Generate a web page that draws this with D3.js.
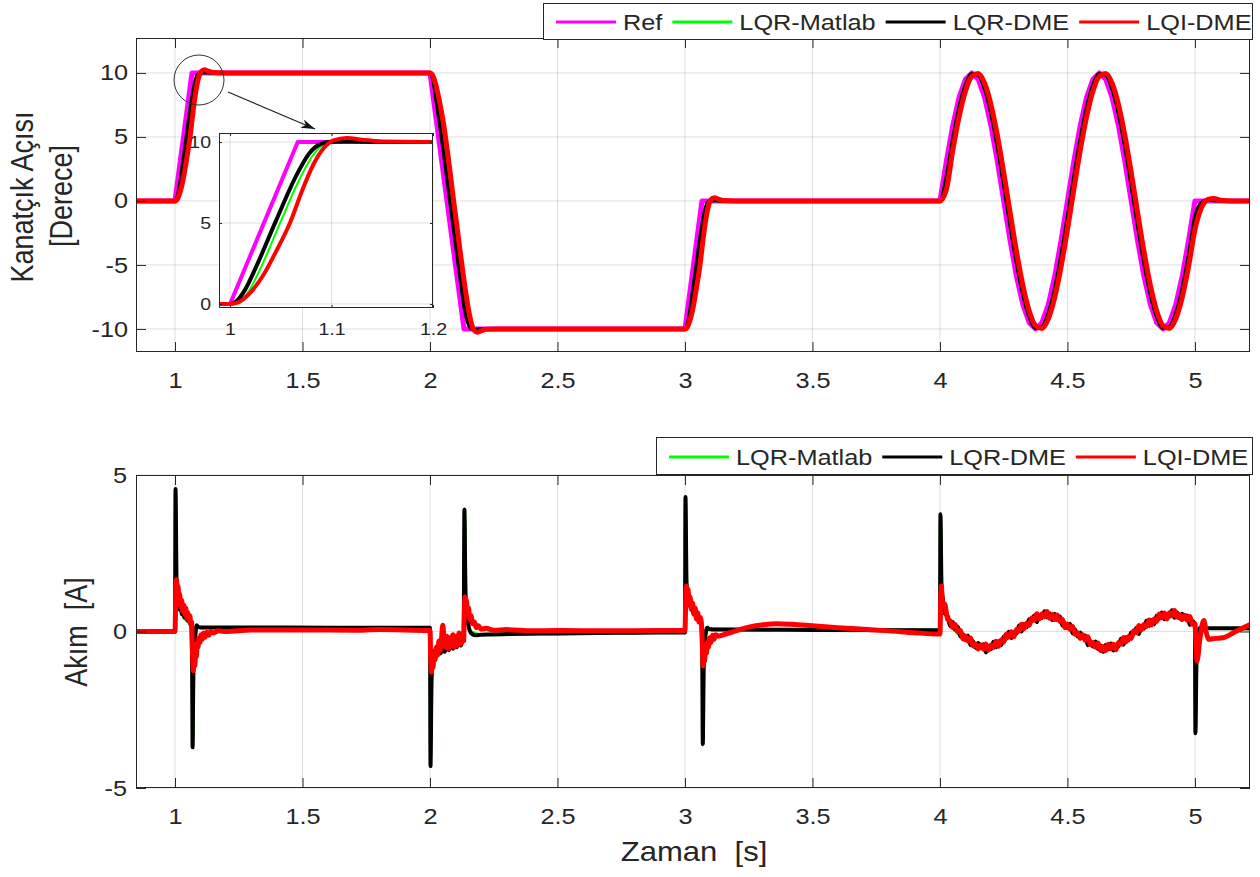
<!DOCTYPE html>
<html>
<head>
<meta charset="utf-8">
<script src="https://cdn.jsdelivr.net/npm/d3@7"></script>
<style>
  body { margin: 0; background: #fff; }
  text { font-family: "Liberation Sans", Arial, sans-serif; fill: #262626; }
</style>
</head>
<body>
<div id="chart"></div>
<script>
// ---- data ----
const xTicks = [1, 1.5, 2, 2.5, 3, 3.5, 4, 4.5, 5];
const angleTicks = [-10, -5, 0, 5, 10];
const currentTicks = [-5, 0, 5];
const insetXTicks = [1, 1.1, 1.2];
const insetYTicks = [0, 5, 10];
const angleNames = ["Ref", "LQR-Matlab", "LQR-DME", "LQI-DME"];
const currentNames = ["LQR-Matlab", "LQR-DME", "LQI-DME"];

// kanatçık açısı, step parts [t, deg]
const refSteps = [[0.847,0],[1,0],[1.0667,10],[2,10],[2.1333,-10],[3,-10],[3.0667,0],[4,0]];
const refTail = [[5.216,0]];
const greenSteps = [[0.847,0],[1,0],[1.009,0.12],[1.019,0.85],[1.03,2.2],[1.05,5.1],[1.07,7.9],[1.083,9.3],[1.094,9.9],[1.105,10.02],[1.13,10.02],[1.16,10],
  [2,10],[2.009,9.88],[2.02,9.1],[2.03,7.7],[2.045,5.7],[2.085,-0.3],[2.125,-6.3],[2.14,-8.4],[2.153,-9.5],[2.165,-9.95],[2.18,-10.05],[2.21,-10],
  [3,-10],[3.009,-9.88],[3.019,-9.15],[3.03,-7.8],[3.05,-4.9],[3.07,-2.1],[3.083,-0.7],[3.094,-0.1],[3.105,0.02],[3.13,0.02],[3.16,0],[4,0]];
const greenTail = [[5.025,-0.4],[5.05,0.02],[5.1,0.02],[5.216,0]];
const blackSteps = [[0.847,0],[1,0],[1.006,0.15],[1.015,0.9],[1.025,2.2],[1.045,5.1],[1.065,7.9],[1.078,9.3],[1.09,9.9],[1.1,10.02],[1.12,10.03],[1.15,10],
  [2,10],[2.006,9.85],[2.015,9.1],[2.025,7.7],[2.04,5.7],[2.08,-0.3],[2.12,-6.3],[2.135,-8.4],[2.148,-9.5],[2.16,-9.95],[2.175,-10.05],[2.2,-10],
  [3,-10],[3.006,-9.85],[3.015,-9.1],[3.025,-7.8],[3.045,-4.9],[3.065,-2.1],[3.078,-0.7],[3.09,-0.1],[3.1,0.02],[3.12,0.03],[3.15,0],[4,0]];
const blackTail = [[5.025,-0.15],[5.05,0.08],[5.08,0.03],[5.12,0],[5.216,0]];
const redSteps = [[0.847,0],[1,0],[1.008,0.1],[1.02,0.7],[1.033,1.8],[1.045,3.2],[1.059,5],[1.071,7],[1.082,8.6],[1.092,9.6],[1.102,10.1],[1.115,10.25],[1.13,10.15],[1.15,10.03],[1.2,10],
  [2,10],[2.008,9.9],[2.02,9.3],[2.035,8.0],[2.05,6.4],[2.1,-1.1],[2.14,-7.1],[2.152,-8.6],[2.163,-9.6],[2.173,-10.1],[2.185,-10.25],[2.2,-10.15],[2.22,-10.03],[2.26,-10],
  [3,-10],[3.008,-9.9],[3.02,-9.3],[3.033,-8.2],[3.045,-6.8],[3.059,-5],[3.071,-3],[3.082,-1.4],[3.092,-0.4],[3.102,0.1],[3.115,0.25],[3.13,0.15],[3.15,0.03],[3.2,0],[4,0]];
const redTail = [[5.025,-0.55],[5.05,0.1],[5.075,0.2],[5.1,0.06],[5.15,0],[5.216,0]];

// sinus part 4..5 s
const sineTime = [4.025,4.05,4.075,4.1,4.125,4.15,4.175,4.2,4.225,4.25,4.275,4.3,4.325,4.35,4.375,4.4,4.425,4.45,4.475,4.5,
  4.525,4.55,4.575,4.6,4.625,4.65,4.675,4.7,4.725,4.75,4.775,4.8,4.825,4.85,4.875,4.9,4.925,4.95,4.975,5.0];
const refSine = [3.09,5.88,8.09,9.51,10,9.51,8.09,5.88,3.09,0,-3.09,-5.88,-8.09,-9.51,-10,-9.51,-8.09,-5.88,-3.09,0,
  3.09,5.88,8.09,9.51,10,9.51,8.09,5.88,3.09,0,-3.09,-5.88,-8.09,-9.51,-10,-9.51,-8.09,-5.88,-3.09,0];
const greenSine = [1.39,4.38,6.95,8.83,9.85,9.9,8.99,7.19,4.69,1.74,-1.39,-4.38,-6.95,-8.83,-9.85,-9.9,-8.99,-7.19,-4.69,-1.74,
  1.39,4.38,6.95,8.83,9.85,9.9,8.99,7.19,4.69,1.74,-1.39,-4.38,-6.95,-8.83,-9.85,-9.9,-8.99,-7.19,-4.69,-1.74];
const blackSine = [1.91,4.85,7.31,9.06,9.93,9.82,8.75,6.82,4.23,1.22,-1.91,-4.85,-7.31,-9.06,-9.93,-9.82,-8.75,-6.82,-4.23,-1.22,
  1.91,4.85,7.31,9.06,9.93,9.82,8.75,6.82,4.23,1.22,-1.91,-4.85,-7.31,-9.06,-9.93,-9.82,-8.75,-6.82,-4.23,-1.22];
const redSine = [0.87,3.91,6.56,8.57,9.74,9.96,9.21,7.55,5.15,2.25,-0.87,-3.91,-6.56,-8.57,-9.74,-9.96,-9.21,-7.55,-5.15,-2.25,
  0.87,3.91,6.56,8.57,9.74,9.96,9.21,7.55,5.15,2.25,-0.87,-3.91,-6.56,-8.57,-9.74,-9.96,-9.21,-7.55,-5.15,-2.25];

// akım [A]
const greenCurrent = [[0.847,0],[1.0,0],[1.002,4.4],[1.008,1.2],[1.02,0.7],[1.04,0.4],[1.06,0.2],[1.066,0.0],[1.07,-3.5],[1.075,-0.8],[1.082,0.05],[1.09,0.12],[1.999,0.12],
  [2.0,0.12],[2.002,-4.1],[2.008,-1.2],[2.03,-0.6],[2.08,-0.45],[2.132,-0.3],[2.136,3.7],[2.142,0.8],[2.16,0.0],[2.2,-0.1],[2.999,-0.03],
  [3.0,-0.03],[3.002,4.1],[3.008,1.2],[3.03,0.8],[3.06,0.3],[3.067,0.05],[3.071,-3.4],[3.077,-0.6],[3.09,0.08],[3.999,0.04],
  [4.0,0.04],[4.002,3.6],[4.008,1.2],[4.03,0.4],[4.1,-0.25],[4.18,-0.55],[4.3,0.0],[4.42,0.52],[4.53,0.0],[4.66,-0.55],[4.77,0.0],[4.92,0.55],[4.995,0.3],
  [5.0,0.25],[5.002,-3.1],[5.008,-0.6],[5.02,0.1],[5.216,0.08]];
const blackCurrentHead = [[0.847,0],[1.0,0],[1.002,4.55],[1.006,1.6],[1.01,1.0],[1.013,1.15],[1.017,0.7],[1.022,0.9],[1.027,0.55],[1.032,0.75],[1.037,0.45],[1.043,0.6],[1.049,0.35],[1.055,0.45],[1.06,0.25],[1.064,0.2],[1.067,-1.0],[1.069,-3.7],[1.072,-1.2],[1.076,-0.5],[1.08,-0.1],[1.085,0.2],[1.09,0.15],[1.1,0.13],[1.3,0.13],[1.6,0.12],[1.999,0.12],
  [2.0,0.12],[2.002,-4.3],[2.006,-1.6],[2.01,-1.0],[2.016,-0.8],[2.022,-0.55],[2.028,-0.75],[2.035,-0.5],[2.042,-0.7],[2.05,-0.45],[2.058,-0.65],[2.066,-0.4],[2.074,-0.6],[2.082,-0.35],[2.09,-0.55],[2.098,-0.3],[2.106,-0.5],[2.114,-0.28],[2.122,-0.45],[2.128,-0.25],[2.132,-0.3],[2.135,3.9],[2.139,1.3],[2.143,0.6],[2.148,0.3],[2.155,0.05],[2.165,-0.08],[2.18,-0.12],[2.2,-0.1],[2.5,-0.06],[2.8,-0.04],[2.999,-0.03],
  [3.0,-0.03],[3.002,4.3],[3.006,1.6],[3.01,1.1],[3.015,1.2],[3.02,0.8],[3.026,0.95],[3.032,0.6],[3.038,0.75],[3.044,0.45],[3.05,0.55],[3.056,0.3],[3.062,0.35],[3.066,0.1],[3.068,-1.2],[3.07,-3.6],[3.073,-1.2],[3.077,-0.4],[3.082,0.0],[3.088,0.12],[3.095,0.08],[3.12,0.06],[3.5,0.05],[3.999,0.04],
  [4.0,0.04],[4.002,3.75],[4.006,1.5]];
const blackCurrentTail = [[4.995,0.3],[5.0,0.25],[5.002,-3.25],[5.006,-1.0],[5.012,-0.1],[5.02,0.12],[5.05,0.1],[5.216,0.1]];
const redCurrentHead = [[0.847,0],[1.0,0],[1.003,1.2],[1.006,1.65],[1.009,1.3],[1.012,1.45],[1.015,1.0],[1.018,1.2],[1.022,0.8],[1.026,1.0],[1.03,0.65],[1.034,0.85],[1.038,0.55],[1.042,0.75],[1.046,0.45],[1.05,0.6],[1.054,0.35],[1.058,0.5],[1.062,0.25],[1.065,0.3],[1.068,-0.5],[1.072,-1.25],[1.075,-0.9],[1.078,-1.1],[1.081,-0.6],[1.084,-0.8],[1.087,-0.35],[1.09,-0.5],[1.094,-0.2],[1.098,-0.35],[1.102,-0.1],[1.107,-0.25],[1.112,-0.05],[1.118,-0.18],[1.125,-0.02],[1.132,-0.12],[1.14,0.0],[1.15,-0.05],[1.17,0.02],[1.2,0.0],[1.3,0.05],[1.5,0.05],[1.7,0.04],[1.8,0.06],[1.999,0.03],
  [2.0,0.03],[2.003,-0.9],[2.006,-1.3],[2.009,-1.0],[2.012,-1.15],[2.016,-0.7],[2.02,-0.9],[2.025,-0.5],[2.03,-0.75],[2.035,-0.3],[2.04,-0.6],[2.045,-0.25],[2.05,0.2],[2.055,-0.2],[2.06,-0.5],[2.066,-0.15],[2.072,-0.55],[2.078,-0.2],[2.084,-0.45],[2.09,-0.1],[2.096,-0.5],[2.102,-0.15],[2.108,-0.45],[2.114,-0.05],[2.12,-0.4],[2.126,-0.1],[2.132,-0.3],[2.134,0.3],[2.137,1.1],[2.14,0.85],[2.143,1.0],[2.147,0.6],[2.151,0.75],[2.156,0.4],[2.161,0.5],[2.167,0.25],[2.174,0.3],[2.182,0.12],[2.19,0.18],[2.2,0.08],[2.22,0.1],[2.25,0.04],[2.3,0.06],[2.4,0.02],[2.5,0.03],[2.7,0.02],[2.9,0.03],[2.999,0.03],
  [3.0,0.03],[3.003,1.0],[3.006,1.45],[3.009,1.2],[3.012,1.35],[3.016,0.9],[3.02,1.1],[3.025,0.7],[3.03,0.9],[3.035,0.55],[3.04,0.75],[3.045,0.4],[3.05,0.6],[3.055,0.3],[3.06,0.45],[3.065,0.2],[3.068,-0.4],[3.071,-1.1],[3.074,-0.8],[3.077,-0.95],[3.08,-0.55],[3.084,-0.7],[3.088,-0.35],[3.092,-0.5],[3.097,-0.2],[3.102,-0.35],[3.108,-0.12],[3.114,-0.25],[3.12,-0.1],[3.13,-0.15],[3.16,-0.08],[3.2,0.02],[3.25,0.14],[3.3,0.21],[3.36,0.25],[3.42,0.23],[3.5,0.18],[3.6,0.12],[3.7,0.07],[3.8,0.02],[3.9,-0.04],[3.999,-0.08],
  [4.0,-0.08],[4.003,1.0],[4.006,1.45],[4.008,1.1]];
const redCurrentTail = [[4.995,0.25],[5.0,0.25],[5.004,-0.4],[5.008,-0.95],[5.02,-0.2],[5.035,0.35],[5.045,-0.05],[5.055,-0.25],[5.08,-0.22],[5.11,-0.2],[5.16,0.0],[5.216,0.22]];

// noisy part 4.01..4.99 s
const waveTime = [4.01,4.02,4.03,4.04,4.05,4.06,4.07,4.08,4.09,4.1,4.11,4.12,4.13,4.14,4.15,4.16,4.17,4.18,4.19,4.2,
  4.21,4.22,4.23,4.24,4.25,4.26,4.27,4.28,4.29,4.3,4.31,4.32,4.33,4.34,4.35,4.36,4.37,4.38,4.39,4.4,
  4.41,4.42,4.43,4.44,4.45,4.46,4.47,4.48,4.49,4.5,4.51,4.52,4.53,4.54,4.55,4.56,4.57,4.58,4.59,4.6,
  4.61,4.62,4.63,4.64,4.65,4.66,4.67,4.68,4.69,4.7,4.71,4.72,4.73,4.74,4.75,4.76,4.77,4.78,4.79,4.8,
  4.81,4.82,4.83,4.84,4.85,4.86,4.87,4.88,4.89,4.9,4.91,4.92,4.93,4.94,4.95,4.96,4.97,4.98,4.99];
const blackWave = [1.12,0.56,0.50,0.17,0.30,0.06,0.16,-0.16,-0.09,-0.27,
  -0.13,-0.44,-0.31,-0.52,-0.37,-0.52,-0.41,-0.67,-0.48,-0.57,
  -0.33,-0.50,-0.31,-0.44,-0.16,-0.24,-0.01,-0.21,-0.02,-0.07,
  0.19,0.00,0.24,0.14,0.39,0.33,0.51,0.30,0.52,0.43,
  0.65,0.45,0.58,0.37,0.56,0.37,0.49,0.19,0.27,0.11,
  0.25,-0.06,0.06,-0.16,-0.03,-0.20,-0.13,-0.44,-0.31,-0.48,
  -0.32,-0.56,-0.45,-0.65,-0.43,-0.57,-0.38,-0.61,-0.43,-0.48,
  -0.23,-0.42,-0.18,-0.28,-0.03,-0.08,0.11,-0.08,0.16,0.09,
  0.34,0.18,0.37,0.23,0.50,0.40,0.61,0.39,0.55,0.47,
  0.68,0.44,0.61,0.42,0.57,0.42,0.51,0.21,0.34];
const redWave = [0.94,0.85,0.39,0.34,0.12,0.22,-0.01,0.04,-0.24,-0.14,
  -0.31,-0.21,-0.46,-0.40,-0.56,-0.42,-0.56,-0.40,-0.59,-0.44,
  -0.51,-0.31,-0.47,-0.27,-0.34,-0.08,-0.18,-0.01,-0.17,0.06,
  0.01,0.23,0.09,0.26,0.20,0.43,0.36,0.57,0.41,0.56,
  0.47,0.64,0.42,0.54,0.38,0.53,0.32,0.39,0.12,0.24,
  0.07,0.17,-0.09,-0.04,-0.22,-0.10,-0.28,-0.17,-0.42,-0.35,
  -0.50,-0.37,-0.61,-0.48,-0.61,-0.41,-0.55,-0.41,-0.58,-0.35,
  -0.41,-0.19,-0.33,-0.16,-0.22,0.02,-0.04,0.19,0.05,0.22,
  0.16,0.37,0.21,0.40,0.32,0.56,0.44,0.59,0.40,0.60,
  0.50,0.67,0.46,0.54,0.38,0.52,0.36,0.48,0.23];

// --- birleştir ---
const zip = (ts, vs) => ts.map((t, i) => [t, vs[i]]);
const refAngle = [...refSteps, ...zip(sineTime, refSine), ...refTail];
const greenAngle = [...greenSteps, ...zip(sineTime, greenSine), ...greenTail];
const blackAngle = [...blackSteps, ...zip(sineTime, blackSine), ...blackTail];
const redAngle = [...redSteps, ...zip(sineTime, redSine), ...redTail];
const blackCurrent = [...blackCurrentHead, ...zip(waveTime, blackWave), ...blackCurrentTail];
const redCurrent = [...redCurrentHead, ...zip(waveTime, redWave), ...redCurrentTail];

// ---- çizim ----
const W = 1260, H = 877;
const SX = 1.15; // figure is stretched horizontally
const colors = { ref: "#ff00ff", green: "#00ff00", black: "#000000", red: "#ff0000" };

const svg = d3.select("#chart").append("svg").attr("width", W).attr("height", H);
svg.append("rect").attr("width", W).attr("height", H).attr("fill", "#fff");
const defs = svg.append("defs");

const x = d3.scaleLinear().domain([0.847, 5.216]).range([136, 1250]);
const yTop = d3.scaleLinear().domain([-11.8, 12.73]).range([352, 38]);
const yBot = d3.scaleLinear().domain([-5, 5]).range([788, 475]);

let clipN = 0;
function axesFrame(xs, ys, xt, yt, o) {
  const [x0, x1] = xs.range(), [y0, y1] = ys.range();
  const g = svg.append("g");
  if (o.bg) g.append("rect").attr("x", x0).attr("y", y1).attr("width", x1 - x0).attr("height", y0 - y1).attr("fill", "#fff");
  // grid
  const grid = g.append("g").attr("stroke", "#262626").attr("stroke-opacity", 0.15).attr("stroke-width", 1);
  grid.selectAll(".gx").data(xt).join("line")
    .attr("x1", d => xs(d)).attr("x2", d => xs(d)).attr("y1", y1).attr("y2", y0);
  grid.selectAll(".gy").data(yt).join("line")
    .attr("x1", x0).attr("x2", x1).attr("y1", d => ys(d)).attr("y2", d => ys(d));
  // clipped plot layer
  const id = "clip" + (clipN++);
  defs.append("clipPath").attr("id", id).append("rect")
    .attr("x", x0).attr("y", y1).attr("width", x1 - x0).attr("height", y0 - y1);
  const plot = g.append("g").attr("clip-path", `url(#${id})`);
  const top = g.append("g");
  const fmt = d => d;
  const styleAx = (sel) => {
    sel.attr("font-size", null).attr("font-family", null);
    sel.select(".domain").remove();
    sel.selectAll("line").attr("stroke", "#262626");
  };
  // bottom / left with labels
  const bx = top.append("g").attr("transform", `translate(0,${y0})`)
    .call(d3.axisBottom(xs).tickValues(xt).tickFormat(fmt).tickSize(-o.tick).tickPadding(o.padX));
  styleAx(bx);
  bx.selectAll("text").attr("font-size", o.font).attr("fill", "#262626").attr("transform", `scale(${SX},1)`);
  const ly = top.append("g").attr("transform", `translate(${x0},0)`)
    .call(d3.axisLeft(ys).tickValues(yt).tickFormat(fmt).tickSize(-o.tick).tickPadding(o.padY / SX));
  styleAx(ly);
  ly.selectAll("text").attr("font-size", o.font).attr("fill", "#262626").attr("transform", `scale(${SX},1)`);
  // top / right ticks only
  const tx = top.append("g").attr("transform", `translate(0,${y1})`)
    .call(d3.axisTop(xs).tickValues(xt).tickFormat("").tickSize(-o.tick));
  styleAx(tx);
  const ry = top.append("g").attr("transform", `translate(${x1},0)`)
    .call(d3.axisRight(ys).tickValues(yt).tickFormat("").tickSize(-o.tick));
  styleAx(ry);
  // box
  top.append("rect").attr("x", x0 + 0.5).attr("y", y1 + 0.5).attr("width", x1 - x0 - 1).attr("height", y0 - y1 - 1)
    .attr("fill", "none").attr("stroke", "#262626").attr("stroke-width", 1);
  return plot;
}

function drawSeries(plot, xs, ys, list) {
  list.forEach(s => {
    plot.append("path").datum(s.data)
      .attr("fill", "none").attr("stroke", s.color).attr("stroke-width", s.w)
      .attr("stroke-linejoin", "round").attr("stroke-linecap", "round")
      .attr("d", d3.line().x(d => xs(d[0])).y(d => ys(d[1])).curve(s.curve || d3.curveMonotoneX));
  });
}

// --- üst grafik ---
const topPlot = axesFrame(x, yTop, xTicks, angleTicks, { tick: 10, padX: 20, padY: 8, font: 22 });
drawSeries(topPlot, x, yTop, [
  { data: refAngle, color: colors.ref, w: 5, curve: d3.curveLinear },
  { data: greenAngle, color: colors.green, w: 3 },
  { data: blackAngle, color: colors.black, w: 3.5 },
  { data: redAngle, color: colors.red, w: 5 }
]);

// --- alt grafik ---
const botPlot = axesFrame(x, yBot, xTicks, currentTicks, { tick: 10, padX: 20, padY: 9, font: 22 });
drawSeries(botPlot, x, yBot, [
  { data: greenCurrent, color: colors.green, w: 3 },
  { data: blackCurrent, color: colors.black, w: 4 },
  { data: redCurrent, color: colors.red, w: 5 }
]);

// --- yakınlaştırma (inset) ---
const xi = d3.scaleLinear().domain([0.9891, 1.2]).range([219, 433]);
const yi = d3.scaleLinear().domain([-0.25, 10.56]).range([308, 133]);
const insetPlot = axesFrame(xi, yi, insetXTicks, insetYTicks, { tick: 3, padX: 15, padY: 8, font: 17, bg: true });
drawSeries(insetPlot, xi, yi, [
  { data: refAngle, color: colors.ref, w: 4, curve: d3.curveLinear },
  { data: greenAngle, color: colors.green, w: 2 },
  { data: blackAngle, color: colors.black, w: 4 },
  { data: redAngle, color: colors.red, w: 4 }
]);

// circle + arrow
svg.append("circle").attr("cx", 199).attr("cy", 80).attr("r", 25)
  .attr("fill", "none").attr("stroke", "#333").attr("stroke-width", 1);
defs.append("marker").attr("id", "arrow").attr("viewBox", "0 0 14 9")
  .attr("refX", 14).attr("refY", 4.5).attr("markerWidth", 15).attr("markerHeight", 9)
  .attr("markerUnits", "userSpaceOnUse").attr("orient", "auto")
  .append("path").attr("d", "M0,0 L14,4.5 L0,9 L4,4.5 Z").attr("fill", "#111");
svg.append("line").attr("x1", 228).attr("y1", 92).attr("x2", 315).attr("y2", 129)
  .attr("stroke", "#222").attr("stroke-width", 1.2).attr("marker-end", "url(#arrow)");

// --- eksen etiketleri ---
function stretchedText(tx, ty, str, size, rotate) {
  return svg.append("text")
    .attr("transform", `translate(${tx},${ty}) scale(${SX},1)` + (rotate ? " rotate(-90)" : ""))
    .attr("text-anchor", "middle").attr("font-size", size)
    .style("white-space", "pre").text(str);
}
stretchedText(33, 197, "Kanatçık Açısı", 27, true);
stretchedText(72, 196, "[Derece]", 27, true);
stretchedText(87, 632, "Akım  [A]", 27, true);
stretchedText(694, 861, "Zaman  [s]", 27, false);

// --- lejantlar ---
function legend(bx, by, bw, bh, names, cols, startX, cy) {
  const g = svg.append("g");
  g.append("rect").attr("x", bx + 0.5).attr("y", by + 0.5).attr("width", bw).attr("height", bh)
    .attr("fill", "#fff").attr("stroke", "#262626").attr("stroke-width", 1);
  let cx = startX;
  names.forEach((n, i) => {
    g.append("line").attr("x1", cx).attr("x2", cx + 60).attr("y1", cy).attr("y2", cy)
      .attr("stroke", cols[i]).attr("stroke-width", 3);
    const t = g.append("text").attr("transform", `translate(${cx + 67},${cy + 8}) scale(${SX},1)`)
      .attr("font-size", 22).text(n);
    cx += 67 + t.node().getComputedTextLength() * SX + 10;
  });
}
legend(543, 3, 709, 36, angleNames, [colors.ref, colors.green, colors.black, colors.red], 556, 22);
legend(656, 437, 596, 37, currentNames, [colors.green, colors.black, colors.red], 669, 457);
</script>
</body>
</html>
